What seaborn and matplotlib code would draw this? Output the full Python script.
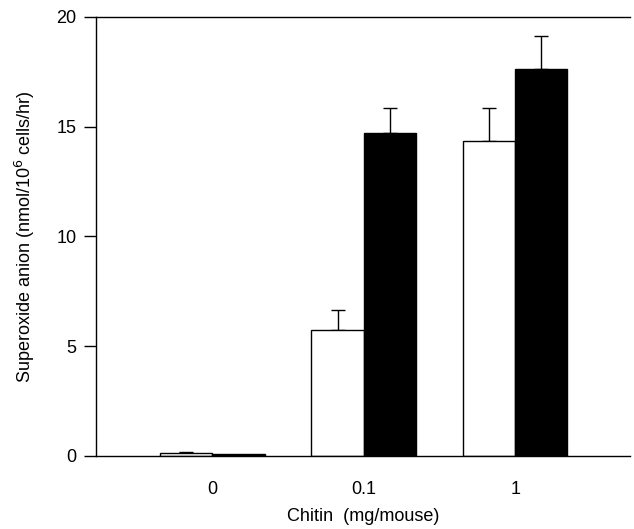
import numpy as np
import pandas as pd
import matplotlib
matplotlib.use("Agg")
import matplotlib.pyplot as plt
import seaborn as sns

doses = ["0", "0.1", "1"]
groups = ["open", "filled"]
open_vals = [0.12, 5.75, 14.35]
filled_vals = [0.08, 14.7, 17.65]
open_err = [0.05, 0.9, 1.5]
filled_err = [0.0, 1.15, 1.5]

sns.set_style("ticks")
plt.rcParams["font.family"] = ["Liberation Sans", "DejaVu Sans"]
plt.rcParams["text.color"] = "black"
plt.rcParams["axes.labelcolor"] = "black"
plt.rcParams["xtick.color"] = "black"
plt.rcParams["ytick.color"] = "black"
plt.rcParams["axes.edgecolor"] = "black"

df = pd.DataFrame({
    "dose": doses * 2,
    "group": [groups[0]] * 3 + [groups[1]] * 3,
    "value": open_vals + filled_vals,
    "err": open_err + filled_err,
})

fig = plt.figure(figsize=(6.34, 5.29), dpi=100)
ax = fig.add_axes([0.151, 0.138, 0.843, 0.830])

sns.barplot(data=df, x="dose", y="value", hue="group", order=doses,
            hue_order=groups, palette=["white", "black"], width=0.69,
            edgecolor="black", linewidth=1.0, errorbar=None, legend=False,
            ax=ax, zorder=2)

# one-sided error bars on top of each bar
for patch, (_, row) in zip(ax.patches, df.iterrows()):
    cx = patch.get_x() + patch.get_width() / 2
    top = patch.get_height()
    if row["err"] > 0:
        ax.errorbar(cx, top, yerr=[[0], [row["err"]]], fmt="none",
                    ecolor="black", elinewidth=1.0, capsize=5, capthick=1.0,
                    zorder=1)

ax.set_ylim(0, 20)
ax.set_xlim(-0.77, 2.76)
ax.set_yticks([0, 5, 10, 15, 20])
ax.tick_params(axis="y", direction="out", length=9, width=1, labelsize=13, pad=5)
ax.tick_params(axis="x", length=0, labelsize=13, pad=18)
for s in ["left", "bottom", "top"]:
    ax.spines[s].set_linewidth(1.0)
ax.spines["right"].set_visible(False)

ax.set_ylabel("Superoxide anion (nmol/10$^6$ cells/hr)", fontsize=13, labelpad=14)
ax.set_xlabel("Chitin  (mg/mouse)", fontsize=13, labelpad=7)

fig.savefig("out.png", dpi=100)
